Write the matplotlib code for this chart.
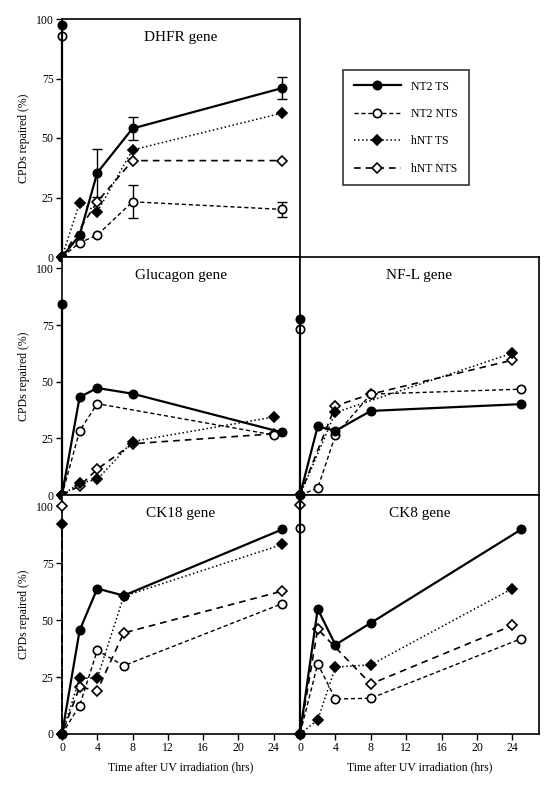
import numpy as np
import matplotlib
matplotlib.use("Agg")
import matplotlib.pyplot as plt
from matplotlib.lines import Line2D

plt.rcParams['font.family'] = ['Liberation Serif', 'DejaVu Serif']

# ---- data (time in hrs, CPDs repaired in %) ----
# "start" values are the stray points drawn at t=0 above each panel's origin
dhfr_x = [0, 2, 4, 8, 25]
dhfr_nt2_ts = [0, 9.2, 35.4, 54, 71]
dhfr_nt2_ts_err = [0, 0, 10, 5, 4.5]
dhfr_nt2_nts = [0, 6.0, 9.2, 23.2, 20]
dhfr_nt2_nts_err = [0, 0, 0, 7, 3]
dhfr_hnt_ts = [0, 22.8, 19.0, 45, 60.5]
dhfr_hnt_nts_x = [0, 4, 8, 25]
dhfr_hnt_nts = [0, 23.2, 40.5, 40.5]
dhfr_start = {"NT2 TS": 97.5, "NT2 NTS": 93}

glu_nt2_ts_x = [0, 2, 4, 8, 25]
glu_nt2_ts = [0, 43.2, 47.2, 44.7, 27.6]
glu_nt2_nts_x = [0, 2, 4, 24]
glu_nt2_nts = [0, 28.3, 40.3, 26.5]
glu_hnt_x = [0, 2, 4, 8, 24]
glu_hnt_ts = [0, 5.2, 6.9, 23.6, 34.4]
glu_hnt_nts = [0, 4.0, 11.4, 22.6, 27]
glu_start = {"NT2 TS": 84.4}

nfl_nt2_x = [0, 2, 4, 8, 25]
nfl_nt2_ts = [0, 30.3, 28.3, 37.1, 40.1]
nfl_nt2_nts = [0, 3.0, 26.4, 44.5, 46.7]
nfl_hnt_ts_x = [0, 4, 24]
nfl_hnt_ts = [0, 36.4, 62.6]
nfl_hnt_nts_x = [0, 4, 8, 24]
nfl_hnt_nts = [0, 39.3, 44.5, 59.5]
nfl_start = {"NT2 TS": 77.8, "NT2 NTS": 73.4}

ck18_x = [0, 2, 4, 7, 25]
ck18_nt2_ts = [0, 45.5, 63.9, 60.8, 89.9]
ck18_nt2_nts = [0, 12.5, 36.7, 30.0, 57.3]
ck18_hnt_ts = [0, 24.5, 24.5, 60.5, 83.3]
ck18_hnt_nts = [0, 20.6, 19.1, 44.4, 62.8]
ck18_start = {"hNT TS": 92.4, "hNT NTS": 100}

ck8_nt2_x = [0, 2, 4, 8, 25]
ck8_nt2_ts = [0, 54.9, 39.2, 48.8, 89.9]
ck8_nt2_nts = [0, 30.8, 15.4, 15.7, 41.9]
ck8_hnt_ts_x = [0, 2, 4, 8, 24]
ck8_hnt_ts = [0, 6.2, 29.4, 30.4, 63.9]
ck8_hnt_nts_x = [0, 2, 8, 24]
ck8_hnt_nts = [0, 46.1, 22.0, 47.7]
ck8_start = {"NT2 TS": 104.8, "NT2 NTS": 90.6, "hNT NTS": 100.6}

x_ticks = [0, 4, 8, 12, 16, 20, 24]
y_ticks = [0, 25, 50, 75, 100]

styles = {
    "NT2 TS": dict(ls='-', marker='o', mfc='k', lw=1.6, ms=6),
    "NT2 NTS": dict(ls=(0, (3, 2)), marker='o', mfc='white', lw=1.0, ms=6),
    "hNT TS": dict(ls=':', marker='D', mfc='k', lw=1.1, ms=5),
    "hNT NTS": dict(ls=(0, (4, 3)), marker='D', mfc='white', lw=1.2, ms=5),
}

W, H = 552, 786
fig = plt.figure(figsize=(W / 100, H / 100), dpi=100)


def box(x0, y0, x1, y1):
    return [x0 / W, 1 - y1 / H, (x1 - x0) / W, (y1 - y0) / H]


def series(ax, name, x, y, start=None):
    st = styles[name]
    if start is not None and name in start:
        x = [0] + list(x)
        y = [start[name]] + list(y)
    ax.plot(x, y, color='k', linestyle=st['ls'], lw=st['lw'], marker=st['marker'],
            ms=st['ms'], mfc=st['mfc'], mec='k', mew=1.2, clip_on=False, zorder=3)


def errs(ax, x, y, e):
    x, y, e = np.array(x), np.array(y), np.array(e)
    m = e > 0
    ax.errorbar(x[m], y[m], yerr=e[m], fmt='none', ecolor='k', elinewidth=1.0,
                capsize=3.5, capthick=1.0, zorder=2)


def setup(ax, title, ymax, left, bottom):
    ax.set_xlim(0, 27)
    ax.set_ylim(0, ymax)
    for s in ax.spines.values():
        s.set_linewidth(1.2)
    ax.text(0.5, 0.95, title, transform=ax.transAxes, ha='center', va='top', fontsize=11)
    if left:
        ax.set_yticks(y_ticks)
        ax.set_ylabel("CPDs repaired (%)", fontsize=8.5, labelpad=4)
    else:
        ax.set_yticks([])
    if bottom:
        ax.set_xticks(x_ticks)
        ax.set_xlabel("Time after UV irradiation (hrs)", fontsize=8.5, labelpad=5)
    else:
        ax.set_xticks([])
    ax.tick_params(direction='out', length=4, width=1, labelsize=8.5, pad=2)


ax1 = fig.add_axes(box(62, 19, 300, 257))
setup(ax1, "DHFR gene", 100, True, False)
errs(ax1, dhfr_x, dhfr_nt2_ts, dhfr_nt2_ts_err)
errs(ax1, dhfr_x, dhfr_nt2_nts, dhfr_nt2_nts_err)
series(ax1, "hNT NTS", dhfr_hnt_nts_x, dhfr_hnt_nts, dhfr_start)
series(ax1, "hNT TS", dhfr_x, dhfr_hnt_ts, dhfr_start)
series(ax1, "NT2 NTS", dhfr_x, dhfr_nt2_nts, dhfr_start)
series(ax1, "NT2 TS", dhfr_x, dhfr_nt2_ts, dhfr_start)

ax2 = fig.add_axes(box(62, 257, 300, 495))
setup(ax2, "Glucagon gene", 105, True, False)
series(ax2, "hNT NTS", glu_hnt_x, glu_hnt_nts, glu_start)
series(ax2, "hNT TS", glu_hnt_x, glu_hnt_ts, glu_start)
series(ax2, "NT2 NTS", glu_nt2_nts_x, glu_nt2_nts, glu_start)
series(ax2, "NT2 TS", glu_nt2_ts_x, glu_nt2_ts, glu_start)

ax3 = fig.add_axes(box(300, 257, 539, 495))
setup(ax3, "NF-L gene", 105, False, False)
series(ax3, "hNT NTS", nfl_hnt_nts_x, nfl_hnt_nts, nfl_start)
series(ax3, "hNT TS", nfl_hnt_ts_x, nfl_hnt_ts, nfl_start)
series(ax3, "NT2 NTS", nfl_nt2_x, nfl_nt2_nts, nfl_start)
series(ax3, "NT2 TS", nfl_nt2_x, nfl_nt2_ts, nfl_start)

ax4 = fig.add_axes(box(62, 495, 300, 734))
setup(ax4, "CK18 gene", 105, True, True)
series(ax4, "hNT NTS", ck18_x, ck18_hnt_nts, ck18_start)
series(ax4, "hNT TS", ck18_x, ck18_hnt_ts, ck18_start)
series(ax4, "NT2 NTS", ck18_x, ck18_nt2_nts, ck18_start)
series(ax4, "NT2 TS", ck18_x, ck18_nt2_ts, ck18_start)

ax5 = fig.add_axes(box(300, 495, 539, 734))
setup(ax5, "CK8 gene", 105, False, True)
series(ax5, "hNT NTS", ck8_hnt_nts_x, ck8_hnt_nts, ck8_start)
series(ax5, "hNT TS", ck8_hnt_ts_x, ck8_hnt_ts, ck8_start)
series(ax5, "NT2 NTS", ck8_nt2_x, ck8_nt2_nts, ck8_start)
series(ax5, "NT2 TS", ck8_nt2_x, ck8_nt2_ts, ck8_start)

# legend
handles = []
for name, st in styles.items():
    handles.append(Line2D([], [], color='k', linestyle=st['ls'], lw=st['lw'], marker=st['marker'],
                          ms=st['ms'], mfc=st['mfc'], mec='k', mew=1.2))
leg = fig.legend(handles, list(styles.keys()), loc='upper left',
                 bbox_to_anchor=(343 / W, 1 - 70 / H), fontsize=8.5, frameon=True,
                 fancybox=False, edgecolor='k', handlelength=4.0, handletextpad=0.9,
                 labelspacing=1.3, borderpad=0.9, borderaxespad=0)
leg.get_frame().set_linewidth(1.2)

fig.savefig("out.png", dpi=100)
